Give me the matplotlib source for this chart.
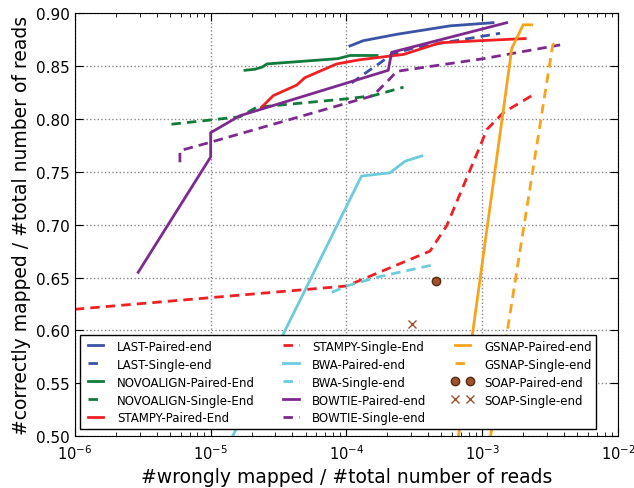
import matplotlib
matplotlib.use("Agg")
import matplotlib.pyplot as plt

# values (x: wrongly mapped fraction, y: correctly mapped fraction)
last_pe_x = [1.06e-4, 1.33e-4, 2.34e-4, 3.68e-4, 5.78e-4, 1.2e-3]
last_pe_y = [0.869, 0.874, 0.880, 0.884, 0.888, 0.891]
last_se_x = [1.09e-4, 1.33e-4, 1.77e-4, 2.15e-4, 3.1e-4, 5.16e-4, 1.35e-3]
last_se_y = [0.834, 0.842, 0.853, 0.861, 0.867, 0.872, 0.881]

novo_pe_x = [1.79e-5, 2.12e-5, 2.39e-5, 2.6e-5, 8.65e-5, 1.06e-4, 1.68e-4]
novo_pe_y = [0.846, 0.847, 0.849, 0.852, 0.857, 0.860, 0.860]
novo_se_x = [5.15e-6, 1.64e-5, 2.18e-5, 1.0e-4, 1.57e-4, 2.63e-4]
novo_se_y = [0.795, 0.802, 0.811, 0.819, 0.822, 0.830]

stampy_pe_x = [2.37e-5, 2.89e-5, 4.3e-5, 4.94e-5, 8.47e-5, 1.26e-4, 2.63e-4, 4.89e-4, 9.6e-4, 2.07e-3]
stampy_pe_y = [0.811, 0.822, 0.832, 0.839, 0.852, 0.856, 0.861, 0.872, 0.874, 0.876]
stampy_se_x = [1e-6, 1e-4, 4.12e-4, 5.47e-4, 9.9e-4, 1.08e-3, 1.43e-3, 2.31e-3]
stampy_se_y = [0.620, 0.642, 0.675, 0.699, 0.778, 0.790, 0.806, 0.822]

bwa_pe_x = [1.45e-5, 3.32e-5, 1.29e-4, 2.09e-4, 2.7e-4, 3.58e-4]
bwa_pe_y = [0.50, 0.593, 0.746, 0.749, 0.760, 0.765]
bwa_se_x = [7.8e-5, 1.0e-4, 1.77e-4, 4.35e-4]
bwa_se_y = [0.636, 0.642, 0.651, 0.662]

bowtie_pe_x = [2.93e-6, 1e-5, 1e-5, 1.64e-5, 2.03e-4, 2.15e-4, 1.51e-3]
bowtie_pe_y = [0.655, 0.764, 0.787, 0.803, 0.846, 0.863, 0.891]
bowtie_se_x = [5.94e-6, 5.94e-6, 1e-5, 1.57e-4, 2.09e-4, 2.34e-4, 1.02e-3, 3.74e-3]
bowtie_se_y = [0.759, 0.770, 0.778, 0.822, 0.838, 0.845, 0.857, 0.870]

gsnap_pe_x = [6.67e-4, 1.65e-3, 2.0e-3, 2.31e-3]
gsnap_pe_y = [0.50, 0.867, 0.889, 0.889]
gsnap_se_x = [1.15e-3, 3.3e-3, 3.55e-3]
gsnap_se_y = [0.50, 0.870, 0.873]

soap_pe_x = [4.56e-4]
soap_pe_y = [0.647]
soap_se_x = [3.02e-4]
soap_se_y = [0.6065]

plt.rcParams['xtick.direction'] = 'in'
plt.rcParams['ytick.direction'] = 'in'
plt.rcParams['xtick.top'] = True
plt.rcParams['ytick.right'] = True

fig = plt.figure(figsize=(6.34, 4.89), dpi=100)
ax = fig.add_axes([0.118, 0.106, 0.857, 0.865])

lw = 2
dash = (0, (3.4, 2.2))
ax.plot(last_pe_x, last_pe_y, color='#3a53a4', lw=lw, label='LAST-Paired-end')
ax.plot(last_se_x, last_se_y, color='#3a53a4', lw=lw, ls=dash, label='LAST-Single-end')
ax.plot(novo_pe_x, novo_pe_y, color='#127a3a', lw=lw, label='NOVOALIGN-Paired-End')
ax.plot(novo_se_x, novo_se_y, color='#127a3a', lw=lw, ls=dash, label='NOVOALIGN-Single-End')
ax.plot(stampy_pe_x, stampy_pe_y, color='#ee2024', lw=lw, label='STAMPY-Paired-End')
ax.plot(stampy_se_x, stampy_se_y, color='#ee2024', lw=lw, ls=dash, label='STAMPY-Single-End')
ax.plot(bwa_pe_x, bwa_pe_y, color='#6dcbdc', lw=lw, label='BWA-Paired-end')
ax.plot(bwa_se_x, bwa_se_y, color='#6dcbdc', lw=lw, ls=dash, label='BWA-Single-end')
ax.plot(bowtie_pe_x, bowtie_pe_y, color='#7d2a8e', lw=lw, label='BOWTIE-Paired-end')
ax.plot(bowtie_se_x, bowtie_se_y, color='#7d2a8e', lw=lw, ls=dash, label='BOWTIE-Single-end')
ax.plot(gsnap_pe_x, gsnap_pe_y, color='#f9a31b', lw=lw, label='GSNAP-Paired-end')
ax.plot(gsnap_se_x, gsnap_se_y, color='#f9a31b', lw=lw, ls=dash, label='GSNAP-Single-end')
ax.plot(soap_pe_x, soap_pe_y, 'o', color='#a0522d', mec='#5a2a10', ms=6, label='SOAP-Paired-end')
ax.plot(soap_se_x, soap_se_y, 'x', color='#a0522d', ms=6, mew=1, label='SOAP-Single-end')

ax.set_xscale('log')
ax.set_xlim(1e-6, 1e-2)
ax.set_ylim(0.5, 0.9)
ax.set_yticks([0.50, 0.55, 0.60, 0.65, 0.70, 0.75, 0.80, 0.85, 0.90])
ax.yaxis.set_major_formatter(matplotlib.ticker.FormatStrFormatter('%.2f'))
ax.grid(True, which='major', ls=':', color='#888888', lw=1)
ax.tick_params(which='major', length=6)
ax.tick_params(axis='y', labelsize=11)
ax.tick_params(axis='x', labelsize=10.5, pad=5)
ax.tick_params(which='minor', length=3)
ax.set_xlabel('#wrongly mapped / #total number of reads', fontsize=13.5)
ax.set_ylabel('#correctly mapped / #total number of reads', fontsize=13.5)

leg = ax.legend(loc='lower left', bbox_to_anchor=(0.0092, 0.0165), borderaxespad=0,
                ncol=3, fontsize=8.5, numpoints=2, fancybox=False, framealpha=1,
                edgecolor='black', handlelength=1.9, handletextpad=0.85,
                columnspacing=2.1, labelspacing=0.42)
leg.get_frame().set_linewidth(1)

fig.savefig('out.png', dpi=100)
